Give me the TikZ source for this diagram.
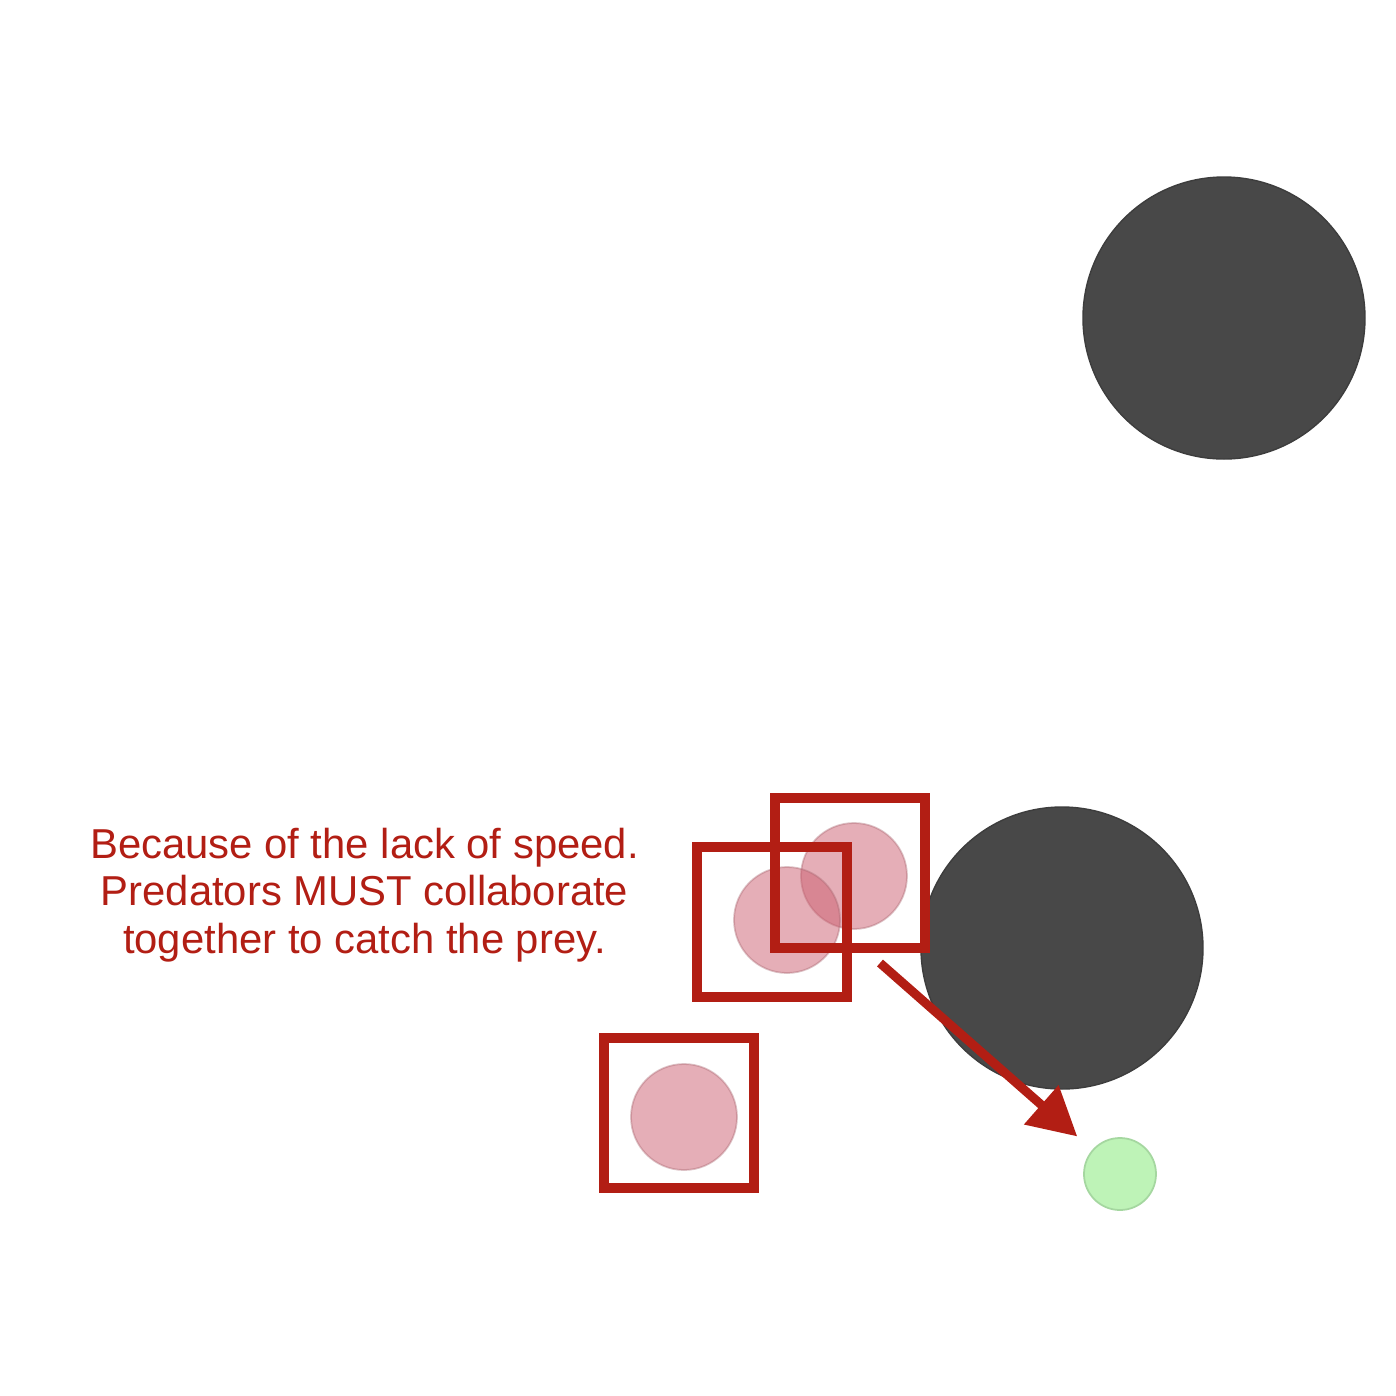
\documentclass[tikz,border=0pt]{standalone}
\usepackage{fontspec}
\setmainfont{Liberation Sans}
\usepackage{tikz}
\usetikzlibrary{arrows.meta}

\definecolor{rockgray}{RGB}{72,72,72}
\definecolor{markred}{RGB}{178,30,20}
\definecolor{predpink}{RGB}{204,95,112}
\definecolor{prededge}{RGB}{170,105,115}
\definecolor{preygreen}{RGB}{190,243,183}
\definecolor{preyedge}{RGB}{165,215,160}

\tikzset{
	rock/.style={circle, fill=rockgray, draw=rockgray!85!black, line width=0.4pt, minimum size=2.82cm, inner sep=0pt},
	predator/.style={circle, fill=predpink, fill opacity=0.5, draw=prededge, draw opacity=0.4, line width=0.5pt, minimum size=1.06cm, inner sep=0pt},
	prey/.style={circle, fill=preygreen, draw=preyedge, line width=0.5pt, minimum size=0.72cm, inner sep=0pt},
	marker/.style={rectangle, draw=markred, line width=0.1cm, minimum size=1.5cm, inner sep=0pt},
	chase/.style={draw=markred, line width=0.09cm, -{Triangle[length=0.48cm, width=0.5cm]}, shorten >=0.2cm}
}

\begin{document}
\begin{tikzpicture}
	\fill[white] (0,0) rectangle (13.96,-13.96);
	\useasboundingbox (0,0) rectangle (13.96,-13.96);

	\node[rock] (o1) at (12.24,-3.18) {};
	\node[rock] (o2) at (10.62,-9.48) {};

	\node[predator] (p1) at (8.54,-8.76) {};
	\node[predator] (p2) at (7.87,-9.20) {};
	\node[predator] (p3) at (6.84,-11.17) {};

	\node[prey] (q1) at (11.20,-11.74) {};

	\node[marker] (s1) at (8.50,-8.73) {};
	\node[marker] (s2) at (7.72,-9.215) {};
	\node[marker] (s3) at (6.79,-11.13) {};

	\coordinate (a1) at (8.80,-9.63);
	\draw[chase] (a1) -- (q1);

	\node[text=markred, align=center, font=\fontsize{11.9}{13.6}\selectfont] (t1) at (3.645,-8.95)
		{Because of the lack of speed.\\Predators MUST collaborate\\together to catch the prey.};
\end{tikzpicture}
\end{document}
